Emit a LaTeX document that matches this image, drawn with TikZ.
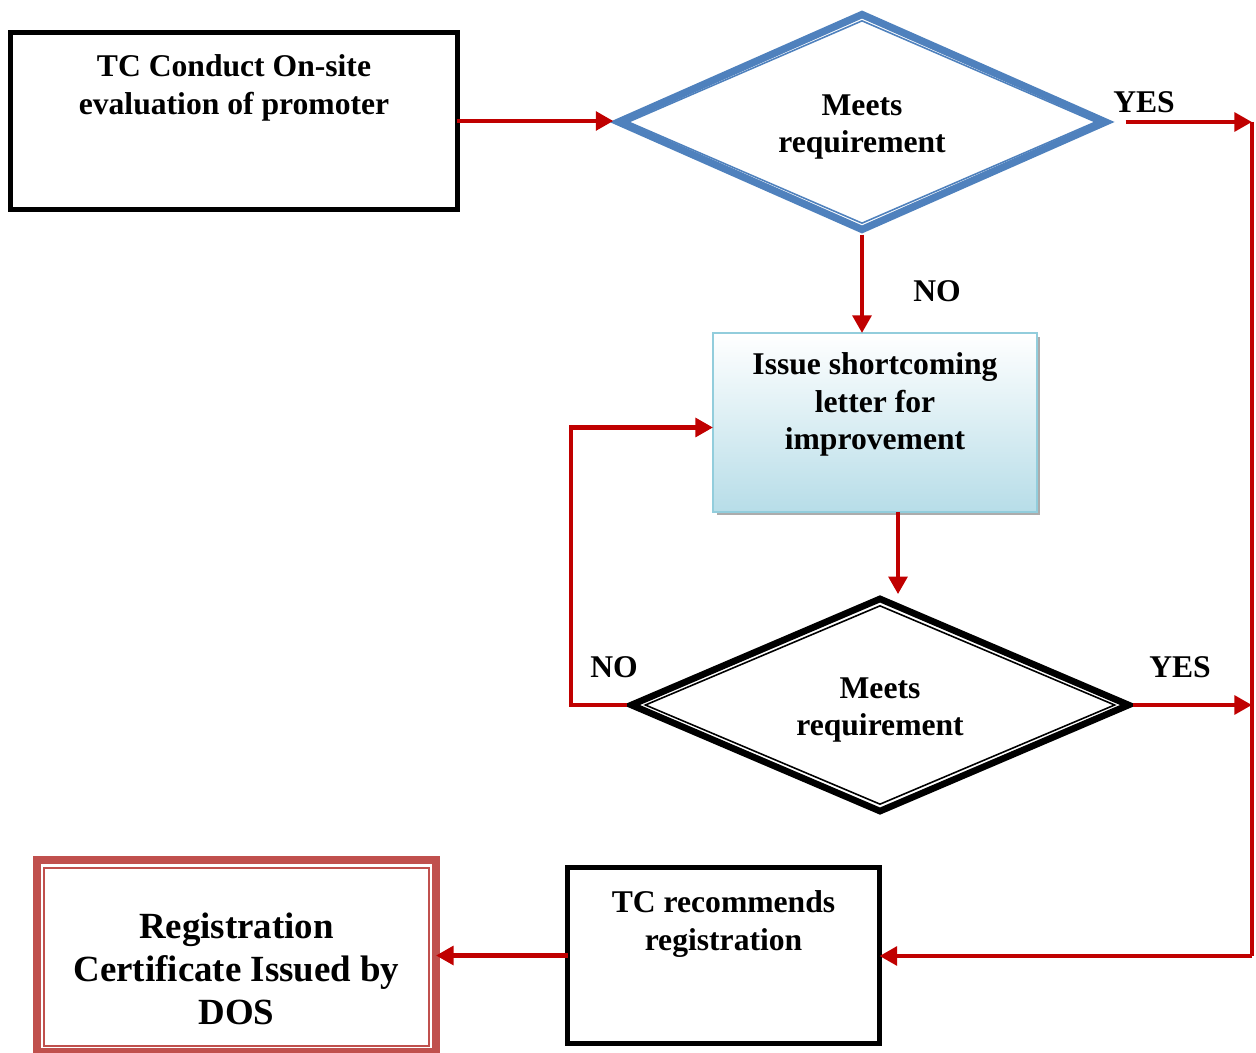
\documentclass[tikz,border=0pt]{standalone}
\usepackage{fontspec}
\setmainfont{Liberation Serif}
\usetikzlibrary{shapes.geometric,arrows.meta,shadows,positioning}

\definecolor{flowred}{RGB}{192,0,0}
\definecolor{decblue}{RGB}{79,129,189}
\definecolor{issueline}{RGB}{146,205,220}
\definecolor{issuefill}{RGB}{183,221,232}
\definecolor{regred}{RGB}{192,80,77}

\begin{document}
\begin{tikzpicture}[x=0.02cm, y=-0.02cm,
  font=\bfseries\fontsize{18}{21.5}\selectfont,
  box/.style={draw, rectangle, line width=2.8pt, outer sep=0pt, inner sep=0pt},
  txt/.style={align=center, inner sep=0pt},
  decide/.style={diamond, shape aspect=2.25, inner sep=0pt},
  line/.style={draw=flowred, line width=2.5pt},
  arr/.style={line, -{Triangle[length=10pt,width=10.5pt]}},
  tag/.style={inner sep=0pt}]
  \useasboundingbox (0,0) rectangle (1256,1053);

  \node[box, minimum width=8.94cm, minimum height=3.54cm] (eval) at (234,121) {};
  \node[txt, below=0.43cm of eval.north] (evaltxt) {TC Conduct On-site\\evaluation of promoter};

  \node[decide, draw=decblue, line width=4.2pt, minimum width=9.8cm, minimum height=4.36cm] (d1) at (862,122) {};
  \node[decide, draw=decblue, line width=0.9pt, minimum width=9.36cm, minimum height=4.06cm] (d1in) at (d1.center) {};
  \node[txt] (d1txt) at ([yshift=-0.1cm]d1.center) {Meets\\requirement};

  \node[box, draw=issueline, line width=1.4pt, top color=white, bottom color=issuefill,
    drop shadow={shadow xshift=0.07cm, shadow yshift=-0.07cm, fill=gray!65, opacity=1},
    minimum width=6.48cm, minimum height=3.58cm] (issue) at (875,422.5) {};
  \node[txt, below=0.38cm of issue.north] (issuetxt) {Issue shortcoming\\letter for\\improvement};

  \node[decide, draw, line width=3.8pt, minimum width=10cm, minimum height=4.3cm] (d2) at (880,705) {};
  \node[decide, draw, line width=0.9pt, minimum width=9.4cm, minimum height=3.98cm] (d2in) at (d2.center) {};
  \node[txt] (d2txt) at ([yshift=-0.1cm]d2.center) {Meets\\requirement};

  \node[box, minimum width=6.24cm, minimum height=3.52cm] (rec) at (723.5,955.5) {};
  \node[txt, below=0.45cm of rec.north] (rectxt) {TC recommends\\registration};

  \node[box, draw=regred, line width=4.5pt, minimum width=7.98cm, minimum height=3.84cm] (reg) at (236.5,956) {};
  \node[box, draw=regred, line width=1.1pt, minimum width=7.7cm, minimum height=3.56cm] (reginner) at (236.5,957) {};
  \node[txt, font=\bfseries\fontsize{21}{24.4}\selectfont, below=1.06cm of reg.north] (regtxt) {Registration\\Certificate Issued by\\DOS};

  % connectors
  \coordinate (railtop) at (1252,122);
  \coordinate (railbot) at (1252,956);
  \coordinate (loop) at (571,705);
  \coordinate (drop) at ([xshift=0.46cm]issue.south);

  \draw[arr] (eval.east) -- (eval.east -| d1.west);
  \draw[arr] ([xshift=0.3cm]d1.east) -- (railtop);
  \draw[line] (railtop) -- (railbot);
  \draw[arr] (d1.south) -- (d1.south |- issue.north);
  \draw[arr] (drop) -- (drop |- d2.north);
  \draw[arr] (d2.west) -- (loop) |- ([yshift=-0.1cm]issue.west);
  \draw[arr] (d2.east) -- (d2.east -| railbot);
  \draw[arr] (railbot) -- (railbot -| rec.east);
  \draw[arr] (rec.west) -- (rec.west -| reg.east);

  \node[tag] (yes1) at (1144,102) {YES};
  \node[tag] (no1) at (937,291) {NO};
  \node[tag] (no2) at (614,667) {NO};
  \node[tag] (yes2) at (1180,667) {YES};
\end{tikzpicture}
\end{document}
